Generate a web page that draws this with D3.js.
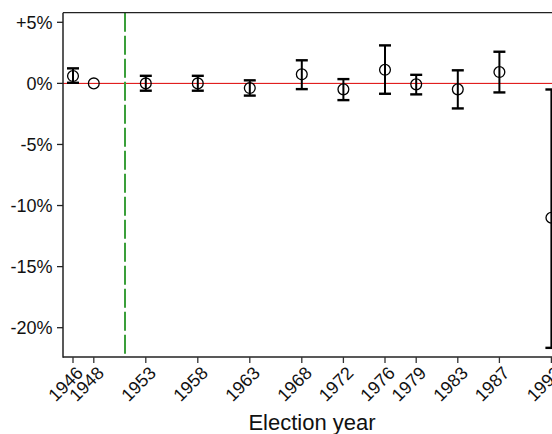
<!DOCTYPE html>
<html><head><meta charset="utf-8">
<script src="https://cdn.jsdelivr.net/npm/d3@7"></script>
<style>body{margin:0;background:#fff}svg{display:block}text{font-family:"Liberation Sans",Arial,sans-serif;fill:#111}</style>
</head><body>
<svg id="c" width="552" height="434"></svg>
<script>
const years  = [1946, 1948, 1953, 1958, 1963, 1968, 1972, 1976, 1979, 1983, 1987, 1992];
const values = [0.6, 0.0, 0.0, 0.0, -0.38, 0.74, -0.49, 1.11, -0.08, -0.49, 0.93, -11.0];
const lower  = [0.05, null, -0.6, -0.6, -1.0, -0.47, -1.37, -0.85, -0.9, -2.05, -0.74, -21.65];
const upper  = [1.23, null, 0.62, 0.62, 0.25, 1.89, 0.35, 3.11, 0.7, 1.07, 2.59, -0.5];
const yTicks = [5, 0, -5, -10, -15, -20];
const yTickLabels = ["+5%", "0%", "-5%", "-10%", "-15%", "-20%"];
const breakYear = 1951;
const xTitle = "Election year";

const svg = d3.select("#c");
const L = 63, T = 12.7, B = 357, R = 570;
const x = d3.scaleLinear().domain([1946, 1992]).range([73, 551.4]);
const y = d3.scaleLinear().domain([-20, 5]).range([327.7, 22.3]);

// zero line
svg.append("line").attr("x1", L).attr("x2", R).attr("y1", y(0)).attr("y2", y(0))
  .attr("stroke", "#dd0000").attr("stroke-width", 1);

// break line
svg.append("line").attr("x1", x(breakYear)).attr("x2", x(breakYear)).attr("y1", T).attr("y2", B)
  .attr("stroke", "#3a9f3a").attr("stroke-width", 2).attr("stroke-dasharray", "19,4");

// spines
svg.append("line").attr("x1", L).attr("x2", R).attr("y1", T).attr("y2", T).attr("stroke", "#222").attr("stroke-width", 1.2);
svg.append("line").attr("x1", L).attr("x2", R).attr("y1", B).attr("y2", B).attr("stroke", "#222").attr("stroke-width", 1.5);
svg.append("line").attr("x1", L).attr("x2", L).attr("y1", T).attr("y2", B + 0.75).attr("stroke", "#222").attr("stroke-width", 1.5);

// y axis ticks
const yg = svg.append("g");
yTicks.forEach((v, i) => {
  yg.append("line").attr("x1", L - 6).attr("x2", L).attr("y1", y(v)).attr("y2", y(v)).attr("stroke", "#222").attr("stroke-width", 1.3);
  yg.append("text").attr("x", L - 10.5).attr("y", y(v)).attr("dy", "0.36em")
    .attr("text-anchor", "end").style("font-size", "18px").text(yTickLabels[i]);
});

// x axis ticks
const xg = svg.append("g");
years.forEach(yr => {
  xg.append("line").attr("x1", x(yr)).attr("x2", x(yr)).attr("y1", B).attr("y2", B + 6).attr("stroke", "#333").attr("stroke-width", 1.3);
  xg.append("text").attr("transform", `translate(${x(yr) + 2},${B + 8}) rotate(-45)`)
    .attr("dy", "0.72em").attr("text-anchor", "end").style("font-size", "18px").text(yr);
});

svg.append("text").attr("x", 312).attr("y", 430).attr("text-anchor", "middle")
  .style("font-size", "22px").text(xTitle);

// error bars
const g = svg.append("g");
years.forEach((yr, i) => {
  if (lower[i] === null) return;
  const cx = x(yr);
  g.append("line").attr("x1", cx).attr("x2", cx).attr("y1", y(upper[i])).attr("y2", y(lower[i])).attr("stroke", "#000").attr("stroke-width", 2);
  [upper[i], lower[i]].forEach(v => {
    g.append("line").attr("x1", cx - 6).attr("x2", cx + 6).attr("y1", y(v)).attr("y2", y(v)).attr("stroke", "#000").attr("stroke-width", 2.4);
  });
});
g.selectAll("circle").data(years).join("circle")
  .attr("cx", d => x(d)).attr("cy", (d, i) => y(values[i])).attr("r", 5.4)
  .attr("fill", "none").attr("stroke", "#000").attr("stroke-width", 1.3);
</script>
</body></html>
